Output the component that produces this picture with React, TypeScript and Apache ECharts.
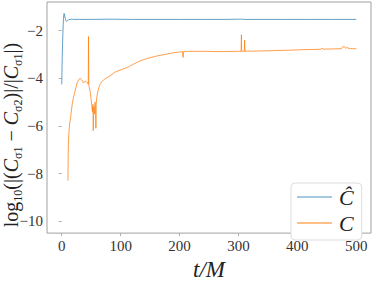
import React, { useEffect, useRef } from "react";
import * as echarts from "echarts";

const xTicks = [0, 100, 200, 300, 400, 500];
const yTicks = [-10, -8, -6, -4, -2];

const hatT = [0, 0.5, 1, 1.5, 2, 2.5, 3, 3.5, 4, 4.5, 5, 6, 7, 8, 9, 10, 12, 14, 17, 20, 30, 50, 80, 120, 160, 200, 240, 280, 305, 310, 340, 380, 420, 460, 500];
const hatV = [-4.26, -3.6, -2.9, -2.5, -2.1, -1.75, -1.5, -1.35, -1.28, -1.3, -1.38, -1.5, -1.58, -1.61, -1.6, -1.57, -1.54, -1.53, -1.52, -1.53, -1.53, -1.53, -1.52, -1.53, -1.53, -1.53, -1.53, -1.53, -1.52, -1.53, -1.53, -1.53, -1.53, -1.53, -1.53];

const cT = [10.5, 11, 11.5, 12.5, 13.5, 14.5, 16, 18, 20, 22, 24, 26, 28, 31, 34, 37, 40, 42, 44, 45, 45.5, 46, 47, 48.5, 50, 51, 52, 53, 53.5, 54.5, 55.5, 56.5, 57.5, 58, 58.5, 59.5, 61, 63, 65, 68, 71, 75, 80, 85, 90, 100, 113, 120, 133, 145, 161, 175, 190, 200, 205, 206, 207, 215, 230, 246, 260, 280, 300, 304.5, 305, 305.5, 308, 310, 310.5, 311, 313, 330, 360, 390, 410, 430, 440, 442, 444, 460, 475, 477, 480, 482, 484, 486, 490, 495, 500];
const cV = [-8.3, -7.2, -6.6, -6.2, -5.9, -5.75, -5.45, -5.05, -4.8, -4.6, -4.4, -4.2, -4.1, -4.0, -4.07, -4.2, -4.12, -4.15, -4.2, -4.25, -2.25, -4.3, -4.4, -4.6, -4.9, -5.15, -5.4, -5.1, -6.2, -5.2, -5.5, -5.0, -5.3, -6.1, -5.1, -4.8, -4.6, -4.4, -4.26, -4.15, -4.07, -4.0, -3.93, -3.85, -3.75, -3.65, -3.53, -3.43, -3.27, -3.17, -3.07, -3.0, -2.93, -2.9, -2.88, -3.13, -2.88, -2.87, -2.87, -2.87, -2.88, -2.88, -2.87, -2.87, -2.17, -2.87, -2.87, -2.87, -2.4, -2.87, -2.86, -2.86, -2.84, -2.82, -2.8, -2.79, -2.78, -2.74, -2.78, -2.77, -2.76, -2.68, -2.68, -2.75, -2.7, -2.74, -2.75, -2.76, -2.76];

const seriesNames = ["Ĉ", "C"];

const SERIF = "Liberation Serif";

export default function App() {
  const ref = useRef<HTMLDivElement>(null);
  useEffect(() => {
    if (!ref.current) return;
    const chart = echarts.init(ref.current, null, { renderer: "svg" });
    const minus = (v: number) => String(v).replace("-", "\u2212");
    chart.setOption({
      animation: false,
      textStyle: { fontFamily: SERIF },
      grid: { left: 47, right: 3, top: 2, bottom: 42, show: true, borderColor: "#a0a0a0", borderWidth: 1, containLabel: false },
      xAxis: {
        type: "value",
        min: -25,
        max: 525,
        name: "t/M",
        nameLocation: "middle",
        nameGap: 14,
        nameTextStyle: { fontFamily: SERIF, fontStyle: "italic", fontSize: 23, color: "#222", verticalAlign: "top" },
        axisLine: { show: false },
        splitLine: { show: false },
        axisTick: { show: true, length: 3, lineStyle: { color: "#b0b0b0" }, customValues: xTicks },
        axisLabel: { customValues: xTicks, fontFamily: SERIF, fontSize: 15, color: "#333", margin: 5, formatter: (v: number) => minus(v) },
      },
      yAxis: {
        type: "value",
        min: -10.5,
        max: -0.8,
        axisLine: { show: false },
        splitLine: { show: false },
        axisTick: { show: true, length: 3, lineStyle: { color: "#b0b0b0" }, customValues: yTicks },
        axisLabel: { customValues: yTicks, fontFamily: SERIF, fontSize: 15, color: "#333", margin: 4, formatter: (v: number) => minus(v) },
      },
      legend: {
        orient: "vertical",
        left: 291,
        top: 183,
        padding: [3, 8, 6, 6],
        itemGap: 4,
        itemWidth: 35,
        itemHeight: 2,
        icon: "rect",
        borderColor: "#dddddd",
        borderWidth: 1,
        borderRadius: 4,
        backgroundColor: "#fff",
        textStyle: { fontFamily: SERIF, fontStyle: "italic", fontSize: 22, color: "#222", padding: [0, 0, 0, 2] },
        data: [
          { name: seriesNames[0], itemStyle: { color: "rgba(31,119,180,0.4)" } },
          { name: seriesNames[1], itemStyle: { color: "rgba(255,127,14,0.5)" } },
        ],
      },
      graphic: [
        {
          type: "text",
          x: 11,
          y: 135,
          rotation: Math.PI / 2,
          style: {
            text: "{n|log}{s|10}{n|(|(}{c|C}{s|σ1}{n| − }{c|C}{s|σ2}{n|)|/|}{c|C}{s|σ1}{n||)}",
            align: "center",
            verticalAlign: "middle",
            fill: "#222",
            fontFamily: SERIF,
            rich: {
              n: { fontFamily: SERIF, fontSize: 20, lineHeight: 26, color: "#222", verticalAlign: "middle" },
              c: { fontFamily: SERIF, fontStyle: "italic", fontSize: 20, lineHeight: 26, color: "#222", verticalAlign: "middle" },
              s: { fontFamily: SERIF, fontSize: 12, lineHeight: 26, color: "#222", verticalAlign: "bottom" },
            },
          },
        },
      ],
      series: [
        {
          name: seriesNames[0],
          type: "line",
          showSymbol: false,
          data: hatT.map((t, i) => [t, hatV[i]]),
          itemStyle: { color: "#1f77b4" },
          lineStyle: { color: "#1f77b4", width: 1, opacity: 0.7 },
        },
        {
          name: seriesNames[1],
          type: "line",
          showSymbol: false,
          data: cT.map((t, i) => [t, cV[i]]),
          itemStyle: { color: "#ff7f0e" },
          lineStyle: { color: "#ff7f0e", width: 1, opacity: 0.75 },
        },
      ],
    });
    return () => chart.dispose();
  }, []);
  return <div ref={ref} style={{ width: 374, height: 286, position: "absolute", left: 0, top: 0 }} />;
}
